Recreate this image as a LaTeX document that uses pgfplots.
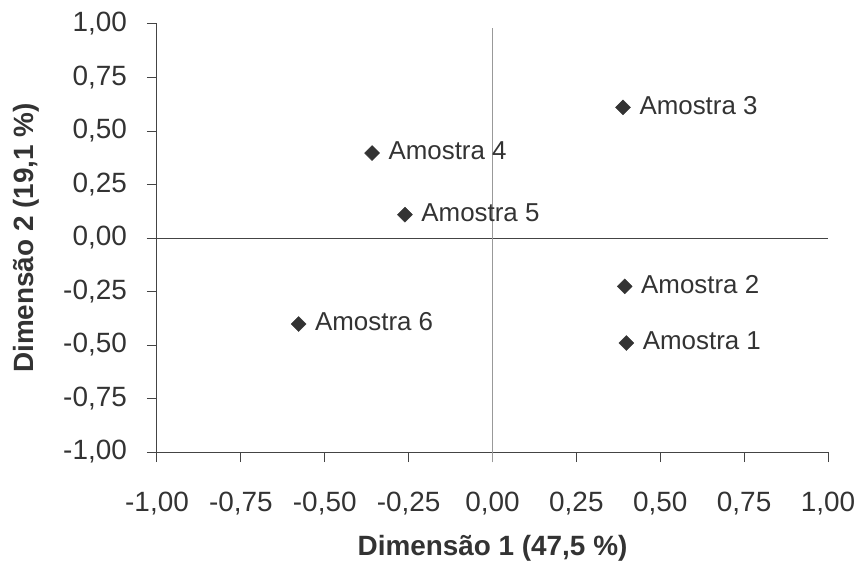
\documentclass[border=0pt]{standalone}
\usepackage{pgfplots}
\pgfplotsset{compat=1.18}
\usepackage{fontspec}
\setmainfont{Liberation Sans}
\definecolor{txt}{HTML}{333333}
\definecolor{axdark}{HTML}{444444}
\definecolor{axgray}{HTML}{999999}
\begin{document}
\begin{tikzpicture}
\begin{axis}[
  scale only axis, width=671bp, height=428bp,
  xmin=-1, xmax=1, ymin=-1, ymax=1,
  axis x line*=bottom, axis y line*=left,
  axis line style={-, draw=axdark, line width=1bp},
  xtick={-1,-0.75,-0.5,-0.25,0,0.25,0.5,0.75,1},
  ytick={-1,-0.75,-0.5,-0.25,0,0.25,0.5,0.75,1},
  tick align=outside, major tick length=10bp,
  tick style={draw=axdark, line width=1bp},
  ticklabel style={font=\fontsize{28}{33}\selectfont, text=txt},
  yticklabel style={anchor=east, inner sep=0pt, xshift=-20bp},
  xticklabel style={anchor=north, inner sep=0pt, yshift=-30bp},
  /pgf/number format/fixed, /pgf/number format/fixed zerofill,
  /pgf/number format/precision=2, /pgf/number format/use comma,
  /pgf/number format/assume math mode=true,
  xlabel={Dimensão 1 (47,5 \%)},
  ylabel={Dimensão 2 (19,1 \%)},
  label style={font=\bfseries\fontsize{28}{33}\selectfont, text=txt, inner sep=0pt},
  xlabel style={at={([yshift=-83bp]axis description cs:0.5,0)}, anchor=north},
  ylabel style={at={([xshift=-144bp]axis description cs:0,0.5)}, anchor=north, rotate=0},
  clip=false,
]
\addplot[only marks, mark=square*, mark size=5.3bp,
  mark options={rotate=45, fill=txt, draw=txt},
  nodes near coords, point meta=explicit symbolic,
  nodes near coords style={anchor=west, font=\fontsize{26}{31}\selectfont, text=txt, xshift=13bp, yshift=2bp}]
  table[meta=label, col sep=comma, row sep=\\] {
x,y,label\\
0.399,-0.491,Amostra 1\\
0.394,-0.226,Amostra 2\\
0.389,0.610,Amostra 3\\
-0.359,0.397,Amostra 4\\
-0.261,0.109,Amostra 5\\
-0.578,-0.402,Amostra 6\\
};
\draw[axdark, line width=1bp] ([xshift=-10bp]axis cs:-1,0) -- (axis cs:1,0);
\draw[axgray, line width=1.2bp] ([yshift=-10bp]axis cs:0,-1) -- (axis cs:0,0.98);
\end{axis}
\pgfresetboundingbox
\path[use as bounding box] ([xshift=-157bp,yshift=-113bp]current axis.south west) rectangle ++(860bp,565bp);
\end{tikzpicture}
\end{document}
